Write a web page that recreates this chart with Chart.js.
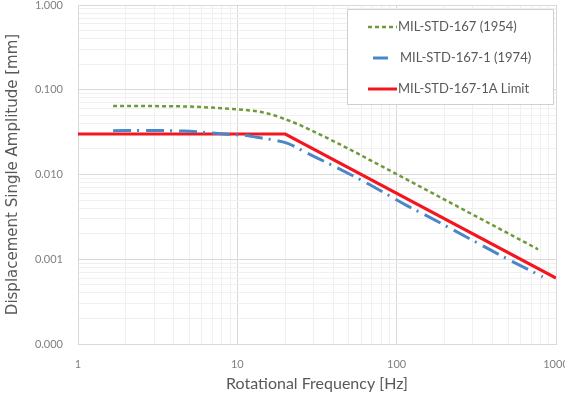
<!DOCTYPE html>
<html>
<head>
<meta charset="utf-8">
<script src="https://cdn.jsdelivr.net/npm/chart.js@4/dist/chart.umd.min.js"></script>
<style>
  html, body { margin: 0; padding: 0; background: #ffffff; }
  #wrap { position: relative; width: 565px; height: 396px; }
</style>
</head>
<body>
<div id="wrap"><canvas id="c" width="565" height="396"></canvas></div>
<script>
// ---- data ----
const seriesNames = ['MIL-STD-167 (1954)', 'MIL-STD-167-1 (1974)', 'MIL-STD-167-1A Limit'];

const freq1954 = [1.66, 4.4, 9.4, 12, 14.5, 17, 19.4, 24.8, 30, 38, 48.7, 65, 100, 200, 400, 772];
const disp1954 = [0.0643, 0.0637, 0.0593, 0.0570, 0.0540, 0.0500, 0.0458, 0.0382, 0.0323, 0.0260, 0.0206, 0.0155, 0.0101, 0.00505, 0.00253, 0.00131];

const freq1974 = [1.66, 3, 4.6, 6.1, 9.4, 11.5, 13.3, 16, 20.5, 27.4, 38.2, 62, 116, 155, 300, 500, 826];
const disp1974 = [0.0329, 0.033, 0.0325, 0.0315, 0.0295, 0.0288, 0.0275, 0.026, 0.0235, 0.0179, 0.0132, 0.0083, 0.0043, 0.00325, 0.00167, 0.00100, 0.00062];

const freqLimit = [1, 20, 1000];
const dispLimit = [0.030, 0.030, 0.0006];

const xDecades = [1, 10, 100, 1000];
const xTickLabels = ['1', '10', '100', '1000'];
const yDecades = [0.0001, 0.001, 0.01, 0.1, 1];
const yTickLabels = ['0.000', '0.001', '0.010', '0.100', '1.000'];

const xTitle = 'Rotational Frequency [Hz]';
const yTitle = 'Displacement Single Amplitude [mm]';

// ---- helpers ----
function pts(xs, ys) { return xs.map((x, i) => ({ x: x, y: ys[i] })); }
function buildTicks(decades) {
  const t = [];
  decades.forEach((d, i) => {
    if (i === decades.length - 1) { t.push({ value: d, major: true }); return; }
    for (let m = 1; m <= 9; m++) t.push({ value: d * m, major: m === 1 });
  });
  return t;
}
function isMajor(v, decades) {
  return decades.some(d => Math.abs(v - d) / d < 1e-6);
}
function labelFor(v, decades, labels) {
  const i = decades.findIndex(d => Math.abs(v - d) / d < 1e-6);
  return i >= 0 ? labels[i] : '';
}

const textColor = '#7f7f7f';
const titleColor = '#595959';

const boxLegend = {
  id: 'boxLegend',
  afterDraw(chart) {
    const ctx = chart.ctx;
    const ca = chart.chartArea;
    const bx = ca.right - 209, by = ca.top + 4, bw = 206, bh = 95;
    ctx.save();
    ctx.fillStyle = '#ffffff';
    ctx.fillRect(bx, by, bw, bh);
    ctx.strokeStyle = '#d0d0d0';
    ctx.lineWidth = 1;
    ctx.strokeRect(bx + 0.5, by + 0.5, bw, bh);
    const rowY = [by + 18, by + 49, by + 80];
    chart.data.datasets.forEach((ds, i) => {
      const y = rowY[i];
      ctx.beginPath();
      ctx.strokeStyle = ds.borderColor;
      ctx.lineWidth = ds.borderWidth;
      ctx.setLineDash(ds.borderDash || []);
      ctx.lineDashOffset = (i === 1) ? -5 : 0;
      ctx.moveTo(bx + 21, y);
      ctx.lineTo(bx + (i === 1 ? 41 : 50), y);
      ctx.stroke();
      ctx.setLineDash([]);
      ctx.fillStyle = titleColor;
      ctx.font = '13px Lato';
      ctx.textBaseline = 'middle';
      ctx.textAlign = 'left';
      ctx.fillText(ds.label, bx + (i === 1 ? 53 : 51), y);
    });
    ctx.restore();
  }
};

new Chart(document.getElementById('c'), {
  type: 'scatter',
  data: {
    datasets: [
      {
        label: seriesNames[0],
        data: pts(freq1954, disp1954),
        showLine: true,
        borderColor: '#6f9a3c',
        backgroundColor: '#6f9a3c',
        borderWidth: 2.5,
        borderDash: [4, 3],
        pointRadius: 0,
        cubicInterpolationMode: 'monotone'
      },
      {
        label: seriesNames[1],
        data: pts(freq1974, disp1974),
        showLine: true,
        borderColor: '#4a87c8',
        backgroundColor: '#4a87c8',
        borderWidth: 3,
        borderDash: [18, 6, 2, 7],
        pointRadius: 0,
        cubicInterpolationMode: 'monotone'
      },
      {
        label: seriesNames[2],
        data: pts(freqLimit, dispLimit),
        showLine: true,
        borderColor: '#f4161f',
        backgroundColor: '#f4161f',
        borderWidth: 3,
        pointRadius: 0,
        tension: 0
      }
    ]
  },
  options: {
    responsive: false,
    animation: false,
    layout: { padding: { top: 5, right: 9, left: 0, bottom: 0 } },
    plugins: {
      legend: { display: false },
      tooltip: { enabled: false }
    },
    scales: {
      x: {
        type: 'logarithmic',
        min: xDecades[0],
        max: xDecades[xDecades.length - 1],
        afterBuildTicks: (s) => { s.ticks = buildTicks(xDecades); },
        afterFit: (s) => { s.paddingRight = 0; s.paddingLeft = 0; s.height = 52; },
        ticks: {
          autoSkip: false,
          maxRotation: 0,
          padding: 14,
          color: textColor,
          font: { family: 'Lato', size: 11 },
          callback: (v) => labelFor(v, xDecades, xTickLabels)
        },
        grid: {
          drawTicks: false,
          color: (c) => (c.tick && isMajor(c.tick.value, xDecades)) ? '#d9d9d9' : '#f0f0f0',
          lineWidth: 1
        },
        border: { color: '#d9d9d9' },
        title: {
          display: true,
          text: xTitle,
          color: titleColor,
          font: { family: 'Lato', size: 16 },
          padding: { top: 0, bottom: 3 }
        }
      },
      y: {
        type: 'logarithmic',
        min: yDecades[0],
        max: yDecades[yDecades.length - 1],
        afterBuildTicks: (s) => { s.ticks = buildTicks(yDecades); },
        afterFit: (s) => { s.width = 78; s.paddingTop = 0; s.paddingBottom = 0; },
        ticks: {
          autoSkip: false,
          padding: 15,
          color: textColor,
          font: { family: 'Lato', size: 11 },
          callback: (v) => labelFor(v, yDecades, yTickLabels)
        },
        grid: {
          drawTicks: false,
          color: (c) => (c.tick && isMajor(c.tick.value, yDecades)) ? '#d9d9d9' : '#f0f0f0',
          lineWidth: 1
        },
        border: { color: '#d9d9d9' },
        title: {
          display: true,
          text: yTitle,
          color: titleColor,
          font: { family: 'DejaVu Sans', size: 15 },
          padding: { top: 4, bottom: 0 }
        }
      }
    }
  },
  plugins: [boxLegend]
});
</script>
</body>
</html>
